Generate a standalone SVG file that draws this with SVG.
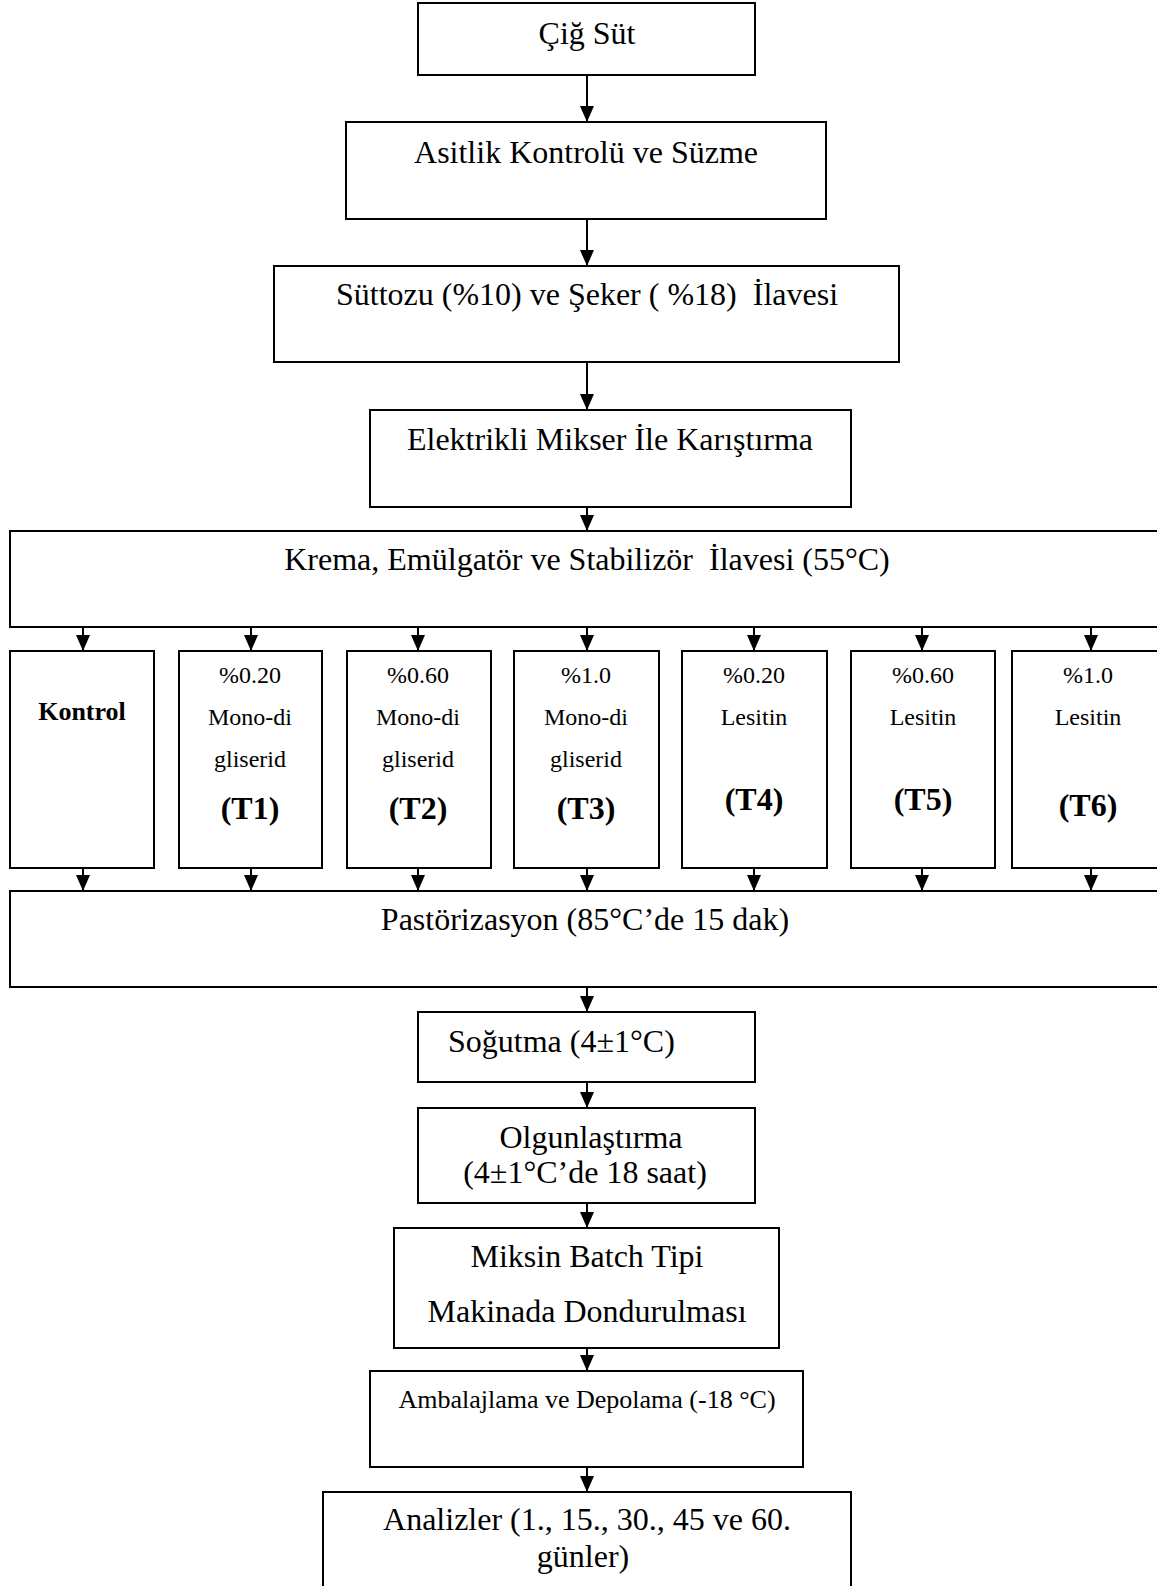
<svg xmlns="http://www.w3.org/2000/svg" width="1157" height="1586" viewBox="0 0 1157 1586">
<style>
.box{fill:#fff;stroke:#000;stroke-width:2}
.t{font-family:"Liberation Serif","Times New Roman",serif;font-size:32px;fill:#000;text-anchor:middle;white-space:pre}
.s{font-family:"Liberation Serif","Times New Roman",serif;font-size:24px;fill:#000;text-anchor:middle}
.b{font-family:"Liberation Serif","Times New Roman",serif;font-size:32px;font-weight:bold;fill:#000;text-anchor:middle}
.c{stroke:#000;stroke-width:2;fill:none;marker-end:url(#ah)}
</style>
<defs>
<marker id="ah" markerUnits="userSpaceOnUse" markerWidth="16" markerHeight="14" viewBox="0 0 16 14" refX="16" refY="7" orient="auto">
<path d="M0,0 L16,7 L0,14 z" fill="#000"/>
</marker>
</defs>
<rect width="1157" height="1586" fill="#fff"/>
<g id="connectors">
<line class="c" x1="587" y1="75" x2="587" y2="122"/>
<line class="c" x1="587" y1="219" x2="587" y2="266"/>
<line class="c" x1="587" y1="362" x2="587" y2="410"/>
<line class="c" x1="587" y1="507" x2="587" y2="531"/>
<line class="c" x1="83" y1="627" x2="83" y2="651"/>
<line class="c" x1="251" y1="627" x2="251" y2="651"/>
<line class="c" x1="418" y1="627" x2="418" y2="651"/>
<line class="c" x1="587" y1="627" x2="587" y2="651"/>
<line class="c" x1="754" y1="627" x2="754" y2="651"/>
<line class="c" x1="922" y1="627" x2="922" y2="651"/>
<line class="c" x1="1091" y1="627" x2="1091" y2="651"/>
<line class="c" x1="83" y1="868" x2="83" y2="891"/>
<line class="c" x1="251" y1="868" x2="251" y2="891"/>
<line class="c" x1="418" y1="868" x2="418" y2="891"/>
<line class="c" x1="587" y1="868" x2="587" y2="891"/>
<line class="c" x1="754" y1="868" x2="754" y2="891"/>
<line class="c" x1="922" y1="868" x2="922" y2="891"/>
<line class="c" x1="1091" y1="868" x2="1091" y2="891"/>
<line class="c" x1="587" y1="987" x2="587" y2="1012"/>
<line class="c" x1="587" y1="1082" x2="587" y2="1108"/>
<line class="c" x1="587" y1="1203" x2="587" y2="1228"/>
<line class="c" x1="587" y1="1348" x2="587" y2="1371"/>
<line class="c" x1="587" y1="1467" x2="587" y2="1492"/>
</g>
<g id="n-cig-sut"><rect class="box" x="418" y="3" width="337" height="72"/><text class="t" x="587" y="44">Çiğ Süt</text></g>
<g id="n-asitlik"><rect class="box" x="346" y="122" width="480" height="97"/><text class="t" x="586" y="163">Asitlik Kontrolü ve Süzme</text></g>
<g id="n-suttozu"><rect class="box" x="274" y="266" width="625" height="96"/><text class="t" x="587" y="305" xml:space="preserve">Süttozu (%10) ve Şeker ( %18)  İlavesi</text></g>
<g id="n-elektrikli"><rect class="box" x="370" y="410" width="481" height="97"/><text class="t" x="610" y="450">Elektrikli Mikser İle Karıştırma</text></g>
<g id="n-krema"><rect class="box" x="10" y="531" width="1170" height="96"/><text class="t" x="587" y="570" xml:space="preserve">Krema, Emülgatör ve Stabilizör  İlavesi (55°C)</text></g>
<g id="n-kontrol"><rect class="box" x="10" y="651" width="144" height="217"/><text class="s" x="82" y="720" style="font-weight:bold;font-size:26px">Kontrol</text></g>
<g id="n-t1"><rect class="box" x="179" y="651" width="143" height="217"/><text class="s" x="250" y="683">%0.20</text><text class="s" x="250" y="725">Mono-di</text><text class="s" x="250" y="767">gliserid</text><text class="b" x="250" y="819">(T1)</text></g>
<g id="n-t2"><rect class="box" x="347" y="651" width="144" height="217"/><text class="s" x="418" y="683">%0.60</text><text class="s" x="418" y="725">Mono-di</text><text class="s" x="418" y="767">gliserid</text><text class="b" x="418" y="819">(T2)</text></g>
<g id="n-t3"><rect class="box" x="514" y="651" width="145" height="217"/><text class="s" x="586" y="683">%1.0</text><text class="s" x="586" y="725">Mono-di</text><text class="s" x="586" y="767">gliserid</text><text class="b" x="586" y="819">(T3)</text></g>
<g id="n-t4"><rect class="box" x="682" y="651" width="145" height="217"/><text class="s" x="754" y="683">%0.20</text><text class="s" x="754" y="725">Lesitin</text><text class="b" x="754" y="810">(T4)</text></g>
<g id="n-t5"><rect class="box" x="851" y="651" width="144" height="217"/><text class="s" x="923" y="683">%0.60</text><text class="s" x="923" y="725">Lesitin</text><text class="b" x="923" y="810">(T5)</text></g>
<g id="n-t6"><rect class="box" x="1012" y="651" width="153" height="217"/><text class="s" x="1088" y="683">%1.0</text><text class="s" x="1088" y="725">Lesitin</text><text class="b" x="1088" y="816">(T6)</text></g>
<g id="n-pastorizasyon"><rect class="box" x="10" y="891" width="1170" height="96"/><text class="t" x="585" y="930">Pastörizasyon (85°C’de 15 dak)</text></g>
<g id="n-sogutma"><rect class="box" x="418" y="1012" width="337" height="70"/><text class="t" x="448" y="1052" style="text-anchor:start">Soğutma (4±1°C)</text></g>
<g id="n-olgunlastirma"><rect class="box" x="418" y="1108" width="337" height="95"/><text class="t" x="591" y="1148">Olgunlaştırma</text><text class="t" x="585" y="1183">(4±1°C’de 18 saat)</text></g>
<g id="n-miksin"><rect class="box" x="394" y="1228" width="385" height="120"/><text class="t" x="587" y="1267">Miksin Batch Tipi</text><text class="t" x="587" y="1322">Makinada Dondurulması</text></g>
<g id="n-ambalajlama"><rect class="box" x="370" y="1371" width="433" height="96"/><text class="t" x="587" y="1408" style="font-size:26px">Ambalajlama ve Depolama (-18 °C)</text></g>
<g id="n-analizler"><rect class="box" x="323" y="1492" width="528" height="110"/><text class="t" x="587" y="1530">Analizler (1., 15., 30., 45 ve 60.</text><text class="t" x="583" y="1567">günler)</text></g>
</svg>
